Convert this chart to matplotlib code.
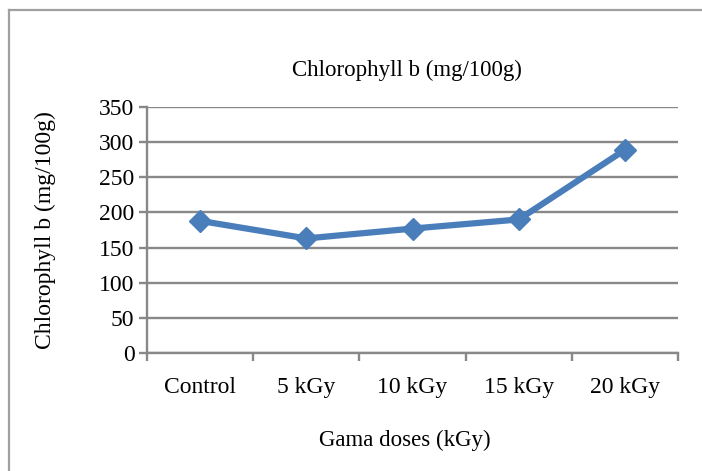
import matplotlib
matplotlib.use("Agg")
import matplotlib.pyplot as plt
from matplotlib.lines import Line2D

categories = ["Control", "5 kGy", "10 kGy", "15 kGy", "20 kGy"]
values = [188, 163, 177, 190, 289]
y_ticks = [0, 50, 100, 150, 200, 250, 300, 350]

plt.rcParams['font.family'] = ['Liberation Serif', 'DejaVu Serif']

W, H = 702, 471
fig = plt.figure(figsize=(W / 100, H / 100), dpi=100)
ax = fig.add_axes([147 / W, 1 - 353 / H, (678 - 147) / W, (353 - 107) / H])

grid_c = '#888888'
x = list(range(len(categories)))
ax.plot(x, values, color='#4a7ebb', lw=4.5, marker='D', ms=11, zorder=3)

ax.set_xlim(-0.5, len(categories) - 0.5)
ax.set_ylim(0, 350)
ax.set_yticks(y_ticks)
ax.set_yticklabels([str(v) for v in y_ticks])
ax.yaxis.grid(True, color=grid_c, lw=1.7)
ax.set_axisbelow(True)

ax.set_xticks([i - 0.5 for i in range(len(categories) + 1)])
ax.set_xticklabels([])
ax.set_xticks(x, minor=True)
ax.set_xticklabels(categories, minor=True)
ax.tick_params(axis='x', which='minor', length=0, pad=17, labelsize=17)
ax.tick_params(axis='x', which='major', length=6, width=1.7, color=grid_c, direction='out')
ax.tick_params(axis='y', length=6, width=1.7, color=grid_c, direction='out', pad=3, labelsize=17)

for s in ['top', 'right']:
    ax.spines[s].set_visible(False)
for s in ['left', 'bottom']:
    ax.spines[s].set_color(grid_c)
    ax.spines[s].set_linewidth(1.7)

fig.text(407 / W, 1 - 70 / H, "Chlorophyll b (mg/100g)", ha='center', va='center', fontsize=16.5)
fig.text(405 / W, 1 - 440 / H, "Gama doses (kGy)", ha='center', va='center', fontsize=16.5)
fig.text(45 / W, 1 - 230 / H, "Chlorophyll b (mg/100g)", ha='center', va='center',
         rotation=90, fontsize=17)

# outer chart border
fig.add_artist(Line2D([9 / W, 9 / W], [0, 1 - 10 / H], color='#a0a0a0', lw=1.6,
                      transform=fig.transFigure))
fig.add_artist(Line2D([9 / W, 1], [1 - 10 / H, 1 - 10 / H], color='#a0a0a0', lw=1.6,
                      transform=fig.transFigure))

fig.savefig("out.png", dpi=100)
